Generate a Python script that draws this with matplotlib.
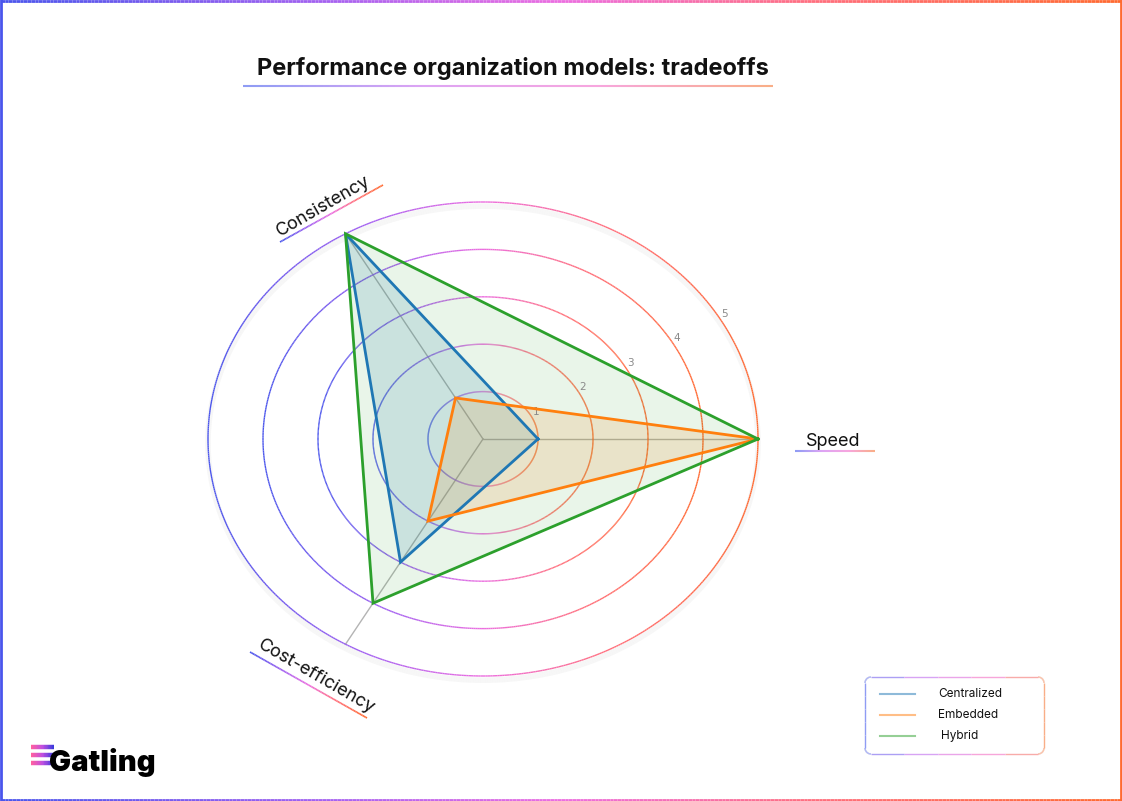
import numpy as np
import matplotlib
matplotlib.use('Agg')
import matplotlib.pyplot as plt
from matplotlib.collections import LineCollection
from matplotlib.colors import LinearSegmentedColormap
import matplotlib.patheffects as pe

plt.rcParams['font.family'] = ['Inter', 'DejaVu Sans']

# data
axis_names = ['Speed', 'Consistency', 'Cost-efficiency']
series_names = ['Centralized', 'Embedded', 'Hybrid']
centralized = [1, 5, 3]
embedded = [5, 1, 2]
hybrid = [5, 5, 4]
ring_levels = [1, 2, 3, 4, 5]
series_colors = ['#1f77b4', '#ff7f0e', '#2ca02c']
fill_alpha = [0.15, 0.15, 0.1]

W, H = 1122, 801
fig = plt.figure(figsize=(W / 100, H / 100), dpi=100)

grad = LinearSegmentedColormap.from_list('gat', [(0, '#4a55ec'), (0.3, '#a862f0'), (0.5, '#ec6ee0'),
                                                  (0.72, '#ff6f80'), (1, '#ff6a30')])
grad_light = LinearSegmentedColormap.from_list('gatl', ['#8f9cf4', '#dca4f4', '#f7a6df', '#f9ae88'])


def fx(x):
    return x / W


def fy(y):
    return 1 - y / H


def grad_line(xs, ys, lw, cmap=grad, t=None, transform=None, **kw):
    # segments coloured along a gradient
    xs = np.asarray(xs, float)
    ys = np.asarray(ys, float)
    pts = np.column_stack([xs, ys])
    segs = np.stack([pts[:-1], pts[1:]], axis=1)
    if t is None:
        t = np.linspace(0, 1, len(segs))
    lc = LineCollection(segs, colors=cmap(t), linewidths=lw, transform=transform,
                        capstyle='butt', **kw)
    return lc


def px_line(x0, y0, x1, y1, lw, cmap=grad):
    n = 80
    xs = fx(np.linspace(x0, x1, n + 1))
    ys = fy(np.linspace(y0, y1, n + 1))
    fig.add_artist(grad_line(xs, ys, lw, cmap=cmap, transform=fig.transFigure))


# frame around the figure
fig.add_artist(plt.Line2D([fx(1), fx(1)], [0, 1], color=grad(0.0), lw=2, transform=fig.transFigure))
fig.add_artist(plt.Line2D([fx(W - 1), fx(W - 1)], [0, 1], color=grad(1.0), lw=2, transform=fig.transFigure))
for yy in [1, H - 1]:
    xs = np.linspace(1, W - 1, 301)
    t = (0.5 * (xs[:-1] + xs[1:])) / W
    fig.add_artist(grad_line(fx(xs), fy(np.full_like(xs, yy)), 2, t=t, transform=fig.transFigure))

# radar axes (elliptical)
cx, cy, rx, ry = 483, 439, 275, 237
ax = fig.add_axes([fx(cx - rx), fy(cy + ry), 2 * rx / W, 2 * ry / H], projection='polar')
ax.set_aspect('auto')
ax.set_ylim(0, 5)
ax.set_xticks([])
ax.set_yticks([])
ax.grid(False)
ax.spines['polar'].set_visible(False)
ax.patch.set_alpha(0)

theta = np.deg2rad([0, 120, 240])

# rings
th = np.linspace(0, 2 * np.pi, 721)
for r in ring_levels:
    tc = 0.5 * (np.cos(0.5 * (th[:-1] + th[1:])) + 1)
    lc = grad_line(th, np.full_like(th, r), 1.0, t=tc, transform=ax.transData, clip_on=False)
    if r == ring_levels[-1]:
        lc.set_path_effects([pe.SimpleLineShadow(offset=(0, -3), shadow_color='#999999', alpha=0.08, linewidth=4),
                             pe.Normal()])
    ax.add_collection(lc)

# spokes
for a in theta:
    ax.plot([a, a], [0, ring_levels[-1]], color='#b4b4b4', lw=1, clip_on=False, zorder=1)

# ring labels
for r in ring_levels:
    ax.text(np.deg2rad(31), r + 0.12, str(r), color='#8a8a8a', fontsize=7.5,
            ha='center', va='center', family='DejaVu Sans')

# series
for vals, name, col, fa in zip([centralized, embedded, hybrid], series_names, series_colors, fill_alpha):
    tt = np.append(theta, theta[0])
    vv = np.append(vals, vals[0])
    ax.fill(tt, vv, color=col, alpha=fa, zorder=2, lw=0)
    ax.plot(tt, vv, color=col, lw=2, zorder=3, clip_on=False, solid_joinstyle='miter')

# title
fig.text(fx(513), fy(68), 'Performance organization models: tradeoffs', ha='center', va='center',
         fontsize=17, fontweight='bold', color='#111111')
px_line(243, 86, 773, 86, 1.5, cmap=grad_light)

# axis labels
fig.text(fx(833), fy(441), axis_names[0], ha='center', va='center', fontsize=13, color='#111111')
px_line(795, 451, 875, 451, 1.5, cmap=grad_light)
fig.text(fx(323), fy(206), axis_names[1], ha='center', va='center', fontsize=13, color='#111111',
         rotation=30, rotation_mode='anchor')
px_line(280, 242, 383, 185, 1.2)
fig.text(fx(316), fy(677), axis_names[2], ha='center', va='center', fontsize=13, color='#111111',
         rotation=-30, rotation_mode='anchor')
px_line(250, 652, 367, 718, 1.2)

# legend box with rounded gradient border
lx0, ly0, lx1, ly1, rad = 865, 677, 1044, 754, 6
pts = []
corners = [(lx1 - rad, ly0 + rad, -90, 0), (lx1 - rad, ly1 - rad, 0, 90),
           (lx0 + rad, ly1 - rad, 90, 180), (lx0 + rad, ly0 + rad, 180, 270)]
for ccx, ccy, a0, a1 in corners:
    aa = np.deg2rad(np.linspace(a0, a1, 20))
    for a in aa:
        pts.append((ccx + rad * np.cos(a), ccy + rad * np.sin(a)))
pts.append(pts[0])
pts = np.array(pts)
dense = []
for i in range(len(pts) - 1):
    seg = np.linspace(pts[i], pts[i + 1], 6)
    dense.extend(seg[:-1])
dense.append(pts[-1])
dense = np.array(dense)
tl = ((dense[:-1, 0] + dense[1:, 0]) / 2 - lx0) / (lx1 - lx0)
fig.add_artist(grad_line(fx(dense[:, 0]), fy(dense[:, 1]), 1.0, cmap=grad_light, t=tl,
                         transform=fig.transFigure))
for i, (name, col) in enumerate(zip(series_names, series_colors)):
    yy = 694 + 21 * i
    fig.add_artist(plt.Line2D([fx(880), fx(915)], [fy(yy), fy(yy)], color=col, alpha=0.5, lw=1.5,
                              transform=fig.transFigure))
    fig.text(fx(938 if name != 'Hybrid' else 941), fy(yy), name, ha='left', va='center',
             fontsize=8.5, color='#111111')

# logo
logo_cmap = LinearSegmentedColormap.from_list('lg', ['#ff5fa0', '#c050e0', '#3b3bdc'])
for i, yy in enumerate([747, 755, 763]):
    xs = np.linspace(31, 54, 30)
    fig.add_artist(grad_line(fx(xs), fy(np.full_like(xs, yy)), 3.2, cmap=logo_cmap,
                             transform=fig.transFigure))
fig.text(fx(49), fy(771), 'Gatling', ha='left', va='baseline', fontsize=21, fontweight='black',
         color='#000000')

fig.savefig('out.png', dpi=100)
